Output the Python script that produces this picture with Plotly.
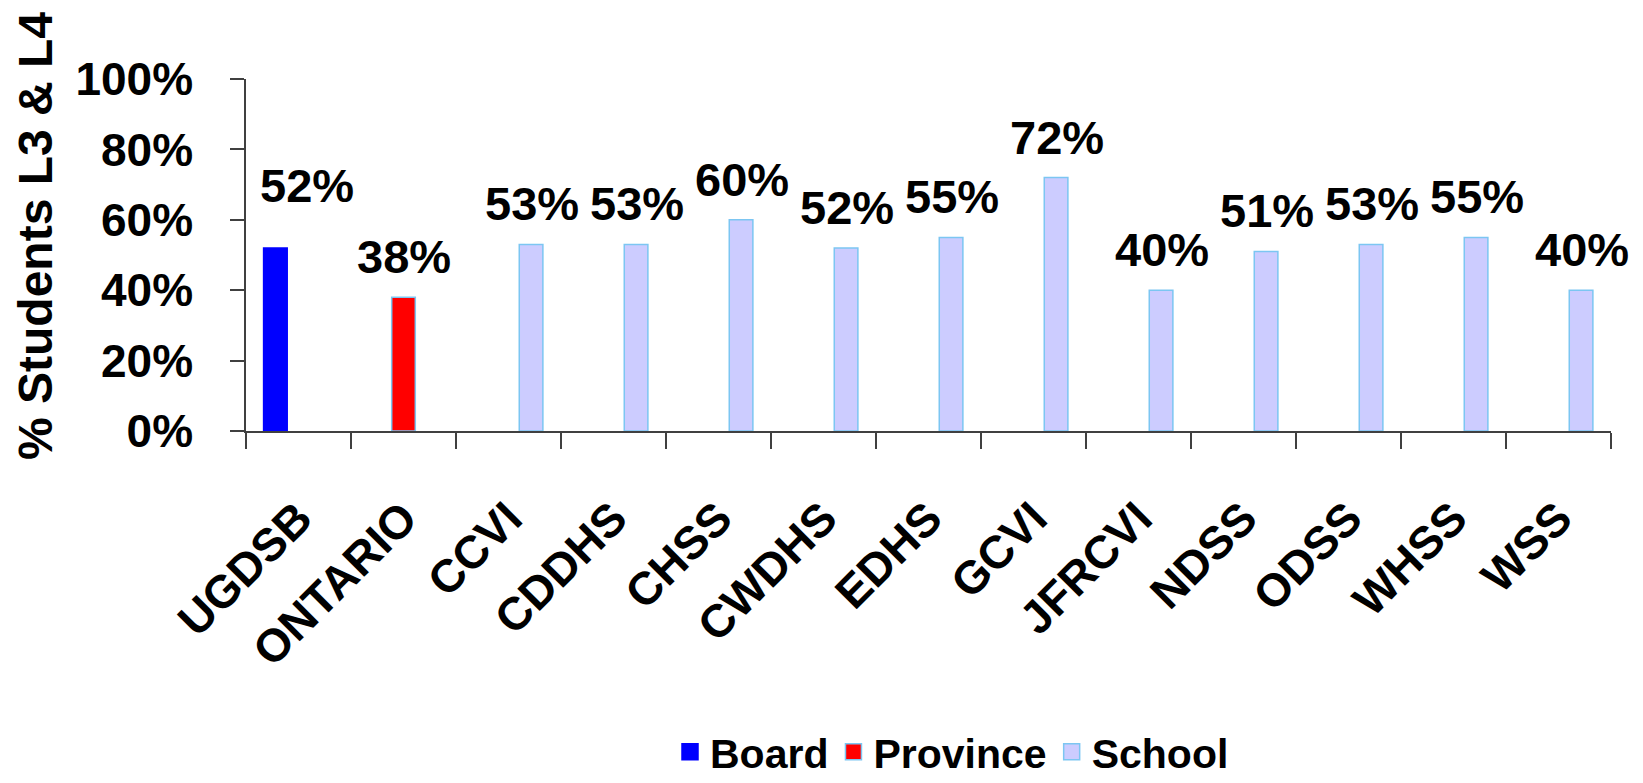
import plotly.graph_objects as go

categories = ["UGDSB", "ONTARIO", "CCVI", "CDDHS", "CHSS", "CWDHS", "EDHS",
              "GCVI", "JFRCVI", "NDSS", "ODSS", "WHSS", "WSS"]
board_cats = ["UGDSB"]
board_vals = [0.52]
province_cats = ["ONTARIO"]
province_vals = [0.38]
school_cats = ["CCVI", "CDDHS", "CHSS", "CWDHS", "EDHS", "GCVI", "JFRCVI",
               "NDSS", "ODSS", "WHSS", "WSS"]
school_vals = [0.53, 0.53, 0.60, 0.52, 0.55, 0.72, 0.40, 0.51, 0.53, 0.55, 0.40]

FONT = "Liberation Sans"
EDGE = "#7cc6f2"
BW = 0.225

series = [
    # name, cats, vals, fill, edge, bar offset, label xshift, label yshift
    ("Board", board_cats, board_vals, "#0000ff", "#0000ff", -0.22 - BW / 2, 8, 34),
    ("Province", province_cats, province_vals, "#ff0000", EDGE, -BW / 2, 0, 12),
    ("School", school_cats, school_vals, "#ccccff", EDGE, 0.215 - BW / 2, 23, 12),
]

# page has an 8px body margin: positions below are in figure pixels
W, H = 1643, 783
L, R, T, B = 238, 40, 71, 360
pw, ph = W - L - R, H - T - B

fig = go.Figure()
annots = []
for name, cats, vals, fill, edge, off, xs, ys in series:
    fig.add_bar(name=name, x=cats, y=vals, width=BW, offset=off, showlegend=False,
                marker=dict(color=fill, line=dict(color=edge, width=1.5)))
    for c, v in zip(cats, vals):
        annots.append(dict(x=c, y=v, xref="x", yref="y", text=f"{round(v*100)}%",
                           showarrow=False, yanchor="bottom", xanchor="center",
                           xshift=xs, yshift=ys,
                           font=dict(family=FONT, size=47, color="black", weight="bold")))
# legend entries
for name, cats, vals, fill, edge, off, xs, ys in series:
    fig.add_scatter(name=name, x=[None], y=[None], mode="markers",
                    marker=dict(symbol="square", size=16, color=fill,
                                line=dict(color=edge, width=1.5)))

annots.append(dict(x=(27 - L) / pw, y=(H - B - 228) / ph, xref="paper", yref="paper",
                   text="% Students L3 & L4", textangle=-90, showarrow=False,
                   xanchor="center", yanchor="middle",
                   font=dict(family=FONT, size=48, color="black", weight="bold")))

fig.update_layout(
    width=W, height=H,
    margin=dict(l=L, r=R, t=T, b=B, pad=0, autoexpand=False),
    paper_bgcolor="white", plot_bgcolor="white",
    barmode="overlay",
    font=dict(family=FONT, size=46, color="black", weight="bold"),
    showlegend=True,
    legend=dict(orientation="h", x=(944 - L) / pw, xanchor="center",
                y=(H - B - 744) / ph, yanchor="middle",
                font=dict(family=FONT, size=41, color="black", weight="bold"),
                itemsizing="trace", traceorder="normal", bgcolor="rgba(0,0,0,0)"),
    annotations=annots,
)
fig.update_xaxes(categoryorder="array", categoryarray=categories,
                 range=[-0.5, len(categories) - 0.5],
                 showline=True, linecolor="#404040", linewidth=1.5,
                 ticks="outside", tickson="boundaries", ticklen=16,
                 tickcolor="#404040", tickwidth=1.5, tickangle=-45,
                 ticklabelstandoff=40,
                 tickfont=dict(family=FONT, size=46, color="black", weight="bold"),
                 showgrid=False, zeroline=False)
fig.update_yaxes(range=[0, 1], tickvals=[0, 0.2, 0.4, 0.6, 0.8, 1.0],
                 tickformat=".0%", showline=True, linecolor="#404040", linewidth=1.5,
                 ticks="outside", ticklen=14, tickcolor="#404040", tickwidth=1.5,
                 ticklabelstandoff=28,
                 tickfont=dict(family=FONT, size=46, color="black", weight="bold"),
                 showgrid=False, zeroline=False)

fig.write_html("out.html")
